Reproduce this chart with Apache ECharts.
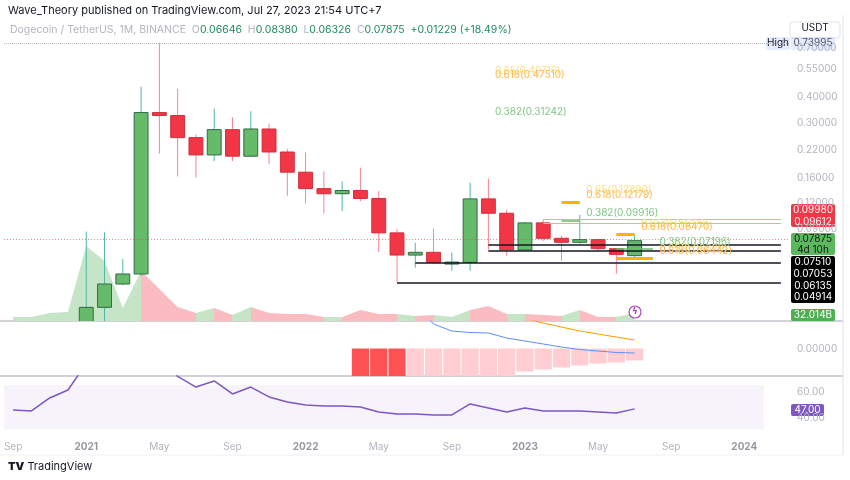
<!DOCTYPE html>
<html>
<head>
<meta charset="utf-8">
<script src="https://cdn.jsdelivr.net/npm/echarts@6/dist/echarts.min.js"></script>
<style>
  html, body { margin: 0; padding: 0; background: #fff; }
  #chart { width: 850px; height: 480px; }
</style>
</head>
<body>
<div id="chart"></div>
<script>
// months on the axis: Sep 2020 .. Mar 2024
const months = [];
for (let i = 0; i < 43; i++) {
  const m = (8 + i) % 12 + 1, y = 2020 + Math.floor((8 + i) / 12);
  months.push(y + '-' + String(m).padStart(2, '0'));
}

// monthly candles, Sep 2020 .. Jul 2023 (first four are below the pane)
const opens  = [null, null, null, null, 0.0047, 0.037, 0.0482, 0.054, 0.336, 0.325, 0.253, 0.208, 0.277, 0.205, 0.279, 0.215, 0.171, 0.142, 0.134, 0.139, 0.127, 0.086, 0.0669, 0.069, 0.0616, 0.0616, 0.1264, 0.1074, 0.0709, 0.0963, 0.0809, 0.0773, 0.0797, 0.0719, 0.06646];
const highs  = [null, null, null, null, 0.0873, 0.0865, 0.064, 0.45, 0.73995, 0.44, 0.262, 0.352, 0.318, 0.341, 0.297, 0.223, 0.214, 0.173, 0.154, 0.18, 0.138, 0.09, 0.077, 0.0903, 0.0687, 0.152, 0.159, 0.1116, 0.0975, 0.0998, 0.083, 0.1055, 0.0805, 0.0725, 0.0838];
const lows   = [null, null, null, null, 0.0046, 0.030, 0.0475, 0.053, 0.211, 0.163, 0.161, 0.194, 0.194, 0.203, 0.187, 0.131, 0.12, 0.107, 0.11, 0.123, 0.0693, 0.04914, 0.058, 0.0605, 0.056, 0.056, 0.07053, 0.0664, 0.07, 0.0785, 0.0628, 0.076, 0.0703, 0.054, 0.06326];
const closes = [null, null, null, null, 0.037, 0.0482, 0.054, 0.336, 0.325, 0.253, 0.208, 0.277, 0.205, 0.279, 0.215, 0.171, 0.142, 0.134, 0.139, 0.127, 0.086, 0.0669, 0.069, 0.0616, 0.0618, 0.1264, 0.1074, 0.0709, 0.0963, 0.0809, 0.0773, 0.0797, 0.0719, 0.0674, 0.07875];
const volumes = [16, 16, 32, 36, 300, 240, 52, 200, 128, 56, 32, 52, 24, 56, 32, 28, 28, 16, 16, 44, 28, 28, 20, 24, 16, 44, 60, 28, 28, 24, 20, 44, 16, 16, 32];

// MACD pane
const macdHist = [null, null, null, null, null, null, null, null, null, null, null, null, null, null, null, null, null, null, null, -0.04, -0.04, -0.04, -0.035, -0.035, -0.035, -0.035, -0.035, -0.035, -0.023, -0.021, -0.019, -0.017, -0.015, -0.014, -0.012];
const macdLine = [null, null, null, null, null, null, null, null, null, null, null, null, null, null, null, null, null, null, null, null, null, null, 0.045, 0.0245, 0.0175, 0.016, 0.0155, 0.0105, 0.0075, 0.0045, 0.0015, -0.001, -0.0025, -0.004, -0.0045];
const signalLine = [null, null, null, null, null, null, null, null, null, null, null, null, null, null, null, null, null, null, null, null, null, null, null, null, null, null, null, 0.04, 0.03, 0.0255, 0.0215, 0.0175, 0.0145, 0.0115, 0.0085];

// RSI pane
const rsi = [46.2, 45.4, 55.4, 61.5, 82, 85, 84, 92, 88, 72, 63.8, 68.5, 58.5, 63.8, 56.2, 52.3, 50, 49.2, 49.2, 48.5, 44.6, 43.1, 43.1, 42.3, 42.3, 50.8, 47.7, 44.6, 47.7, 45.4, 45.4, 45.4, 44.6, 43.8, 47];

const priceTicks = [0.09, 0.12, 0.16, 0.22, 0.30, 0.40, 0.55, 0.70];

// fib levels: [label, value, fromMonth, toMonth, colour]
const fibSegments = [
  ['0.618', 0.12179, '2023-03', '2023-04', '#ffb300'],
  ['0.382', 0.09916, '2023-03', '2023-04', '#66bb6a'],
  ['0.618', 0.08470, '2023-06', '2023-07', '#ffb300'],
  ['0.382', 0.07196, '2023-06', '2023-08', '#66bb6a'],
  ['0.618', 0.06442, '2023-06', '2023-08', '#ffb300']
];
const fibTexts = [
  ['0.65(0.49716)', 0.49716, '2022-11', '#ffe082'],
  ['0.618(0.47510)', 0.47510, '2022-11', '#ffb74d'],
  ['0.382(0.31242)', 0.31242, '2022-11', '#81c784'],
  ['0.65(0.12890)', 0.12890, '2023-04', '#ffe082'],
  ['0.618(0.12179)', 0.12179, '2023-04', '#ffb74d'],
  ['0.382(0.09916)', 0.09916, '2023-04', '#81c784'],
  ['0.65(0.08790)', 0.08790, '2023-07', '#ffe082'],
  ['0.618(0.08470)', 0.08470, '2023-07', '#ffb74d'],
  ['0.382(0.07196)', 0.07196, '2023-08', '#81c784'],
  ['0.65(0.06620)', 0.06620, '2023-08', '#ffe082'],
  ['0.618(0.06442)', 0.06442, '2023-08', '#ffb74d']
];
// horizontal support / resistance rays: [value, fromMonth, colour]
const rays = [
  [0.09980, '2023-02', '#f7a1a8'],
  [0.09612, '2023-02', '#f7a1a8'],
  [0.07510, '2022-11', '#131722'],
  [0.07053, '2022-11', '#131722'],
  [0.06135, '2022-07', '#131722'],
  [0.04914, '2022-06', '#131722']
];

const GREEN = '#c5e5c6', PINK = '#fbbcc1';
const candleData = [];
const isUp = [];
for (let i = 0; i < closes.length; i++) {
  isUp.push(closes[i] != null ? closes[i] >= opens[i] : true);
  if (opens[i] != null) candleData.push([i, opens[i], closes[i], lows[i], highs[i]]);
}
const volPieces = [{ lte: 0, color: GREEN }];
for (let i = 1; i < volumes.length; i++) volPieces.push({ gt: i - 1, lte: i, color: isUp[i] ? GREEN : PINK });

function renderCandle(params, api) {
  const i = api.value(0);
  const o = api.coord([i, api.value(1)]), c = api.coord([i, api.value(2)]);
  const l = api.coord([i, api.value(3)]), h = api.coord([i, api.value(4)]);
  const w = (api.coord([i + 1, api.value(1)])[0] - o[0]) * 0.76;
  const up = api.value(2) >= api.value(1);
  const top = Math.min(o[1], c[1]);
  return {
    type: 'group',
    children: [
      { type: 'line', shape: { x1: h[0], y1: h[1], x2: l[0], y2: l[1] },
        style: { stroke: up ? '#4db6ac' : '#f7858f', lineWidth: 1 } },
      { type: 'rect', shape: { x: o[0] - w / 2, y: top, width: w, height: Math.max(Math.abs(o[1] - c[1]), 2) },
        style: { fill: up ? '#66bb6a' : '#f23645', stroke: up ? '#2f6b45' : '#d0303f', lineWidth: 1 } }
    ]
  };
}

const END = months.length - 0.51;
const markLines = [];
fibSegments.forEach(f => markLines.push([
  { coord: [f[2], f[1]], lineStyle: { color: f[4], width: f[4] === '#ffb300' ? 3 : 1.5, type: 'solid' } },
  { coord: [f[3], f[1]] }
]));
rays.forEach(r => markLines.push([
  { coord: [r[1], r[0]], lineStyle: { color: r[2], width: r[2] === '#131722' ? 1.5 : 1, type: 'solid' } },
  { coord: [END, r[0]] }
]));
markLines.push({ yAxis: 0.73995, lineStyle: { color: '#b2b5be', type: 'dotted', width: 1 } });
markLines.push({ yAxis: 0.07875, lineStyle: { color: '#f23645', opacity: 0.6, type: [1, 2], width: 1 } });

const markPoints = fibTexts.map(t => ({
  coord: [t[2], t[1]], symbol: 'circle', symbolSize: 1, itemStyle: { color: 'rgba(0,0,0,0)' },
  label: { show: true, position: 'right', distance: 0, offset: [6, -7], formatter: t[0], color: t[3], fontSize: 10, fontFamily: 'Inter' }
}));

const font = 'Inter';
function box(x, y, w, h, fill, lines, color, stroke) {
  return {
    type: 'group', x: x, y: y, z: 100,
    children: [{ type: 'rect', shape: { x: 0, y: 0, width: w, height: h, r: 2 }, style: { fill: fill, stroke: stroke || null } }]
      .concat(lines.map((t, k) => ({ type: 'text', x: w / 2, y: 1 + k * (h / lines.length),
        style: { text: t, fill: color, font: '10px ' + font, align: 'center', verticalAlign: 'top' } })))
  };
}

const chart = echarts.init(document.getElementById('chart'));
const xBase = { type: 'category', data: months, boundaryGap: true, axisLine: { show: false }, axisTick: { show: false }, axisLabel: { show: false }, splitLine: { show: false } };

chart.setOption({
  animation: false,
  grid: [
    { left: 4, right: 60, top: 30, height: 291 },
    { left: 4, right: 60, top: 200, height: 121 },
    { left: 4, right: 60, top: 321, height: 55 },
    { left: 4, right: 60, top: 376, height: 56 }
  ],
  xAxis: [
    Object.assign({ gridIndex: 0 }, xBase),
    Object.assign({ gridIndex: 1 }, xBase),
    Object.assign({ gridIndex: 2 }, xBase),
    Object.assign({ gridIndex: 3 }, xBase, {
      axisLabel: {
        show: true, interval: 0, margin: 10, fontFamily: font, fontSize: 10, color: '#b2b5be',
        formatter: v => {
          const m = +v.slice(5);
          if (m === 1) return '{y|' + v.slice(0, 4) + '}';
          return m === 5 ? 'May' : m === 9 ? 'Sep' : '';
        },
        rich: { y: { color: '#9598a1', fontWeight: 'bold', fontSize: 10, fontFamily: font } }
      }
    })
  ],
  yAxis: [
    { type: 'log', logBase: 10, gridIndex: 0, position: 'right', min: 0.0317, max: 0.856,
      axisLine: { show: false }, axisTick: { show: false }, splitLine: { show: false },
      axisLabel: { customValues: priceTicks, margin: 7, color: '#b2b5be', fontSize: 10, fontFamily: font, formatter: v => v.toFixed(5) } },
    { type: 'value', gridIndex: 1, min: 0, max: 484, show: false },
    { type: 'value', gridIndex: 2, position: 'right', min: -0.0275, max: 0.0275,
      axisLine: { show: false }, axisTick: { show: false }, splitLine: { show: false },
      axisLabel: { customValues: [0], margin: 7, color: '#b2b5be', fontSize: 10, fontFamily: font, formatter: () => '0.00000' } },
    { type: 'value', gridIndex: 3, position: 'right', min: 29.2, max: 72.3,
      axisLine: { show: false }, axisTick: { show: false }, splitLine: { show: false },
      axisLabel: { customValues: [40, 60], margin: 7, color: '#b2b5be', fontSize: 10, fontFamily: font, formatter: v => v.toFixed(2) } }
  ],
  visualMap: [{ type: 'piecewise', show: false, dimension: 0, seriesIndex: 0, pieces: volPieces }],
  series: [
    { type: 'line', xAxisIndex: 1, yAxisIndex: 1, data: volumes.map((v, i) => [i, v]), symbol: 'none',
      lineStyle: { width: 0 }, areaStyle: { opacity: 1 }, z: 1 },
    { type: 'custom', xAxisIndex: 0, yAxisIndex: 0, data: candleData, renderItem: renderCandle, clip: true,
      encode: { x: 0, y: [1, 2, 3, 4] }, z: 3 },
    { type: 'line', xAxisIndex: 0, yAxisIndex: 0, data: [], z: 4,
      markLine: { silent: true, symbol: 'none', label: { show: false }, data: markLines },
      markPoint: { silent: true, data: markPoints } },
    { type: 'bar', xAxisIndex: 2, yAxisIndex: 2, barCategoryGap: '6%',
      data: macdHist.map((v, i) => ({ value: v, itemStyle: { color: i <= 21 ? '#ff5252' : '#ffcdd2' } })) },
    { type: 'line', xAxisIndex: 2, yAxisIndex: 2, data: macdLine, symbol: 'none', lineStyle: { color: '#5b8ff9', width: 1 } },
    { type: 'line', xAxisIndex: 2, yAxisIndex: 2, data: signalLine, symbol: 'none', lineStyle: { color: '#ff9800', width: 1 } },
    { type: 'line', xAxisIndex: 3, yAxisIndex: 3, data: rsi, symbol: 'none', lineStyle: { color: '#7e57c2', width: 1.5 },
      markArea: { silent: true, itemStyle: { color: 'rgba(126,87,194,0.07)' },
        data: [[{ yAxis: 65.4, x: 4 }, { yAxis: 31.5, x: 764 }]] } }
  ],
  graphic: [
    { type: 'text', left: 8, top: 5, style: { text: 'Wave_Theory published on TradingView.com, Jul 27, 2023 21:54 UTC+7', fill: '#131722', font: '11px ' + font } },
    { type: 'text', left: 10, top: 24, style: {
      text: '{g|Dogecoin / TetherUS, 1M, BINANCE  O}{v|0.06646}{g|  H}{v|0.08380}{g|  L}{v|0.06326}{g|  C}{v|0.07875}{v|  +0.01229 (+18.49%)}',
      rich: { g: { fill: '#b2b5be', font: '10.5px ' + font }, v: { fill: '#1e8c5a', font: '10.5px ' + font } } } },
    { type: 'line', shape: { x1: 0, y1: 321, x2: 843, y2: 321 }, style: { stroke: '#a3a6af', lineWidth: 1 } },
    { type: 'line', shape: { x1: 0, y1: 376, x2: 843, y2: 376 }, style: { stroke: '#a3a6af', lineWidth: 1 } },
    { type: 'line', shape: { x1: 843, y1: 15, x2: 843, y2: 455 }, style: { stroke: '#e0e3eb', lineWidth: 1 } },
    { type: 'line', shape: { x1: 0, y1: 455, x2: 843, y2: 455 }, style: { stroke: '#eef0f3', lineWidth: 1 } },
    box(790, 22, 50, 16, '#fff', ['USDT'], '#131722', '#e0e3eb'),
    box(766, 37, 24, 13, 'rgba(41,98,255,0.12)', ['High'], '#131722'),
    box(791, 37, 44, 13, 'rgba(41,98,255,0.12)', ['0.73995'], '#50535e'),
    box(791, 204, 44, 23, '#f23645', ['0.09980', '0.09612'], '#fff'),
    box(791, 233, 44, 22, '#5cb85c', ['0.07875', '4d 10h'], '#131722'),
    box(791, 256, 44, 47, '#000', ['0.07510', '0.07053', '0.06135', '0.04914'], '#fff'),
    box(791, 309, 44, 12, '#4caf50', ['32.014B'], '#fff'),
    box(791, 404, 33, 12, '#7e57c2', ['47.00'], '#fff'),
    { type: 'circle', shape: { cx: 635, cy: 312, r: 6 }, style: { fill: '#fff', stroke: '#ab47bc', lineWidth: 1.2 }, z: 50 },
    { type: 'text', x: 635, y: 312, z: 51, style: { text: 'ϟ', fill: '#ab47bc', font: 'bold 9px DejaVu Sans', align: 'center', verticalAlign: 'middle' } },
    { type: 'text', left: 8, top: 461, style: { text: '{l|TV} TradingView', fill: '#131722', font: '11px ' + font,
      rich: { l: { fill: '#131722', font: '900 11px ' + font } } } }
  ]
});
</script>
</body>
</html>
